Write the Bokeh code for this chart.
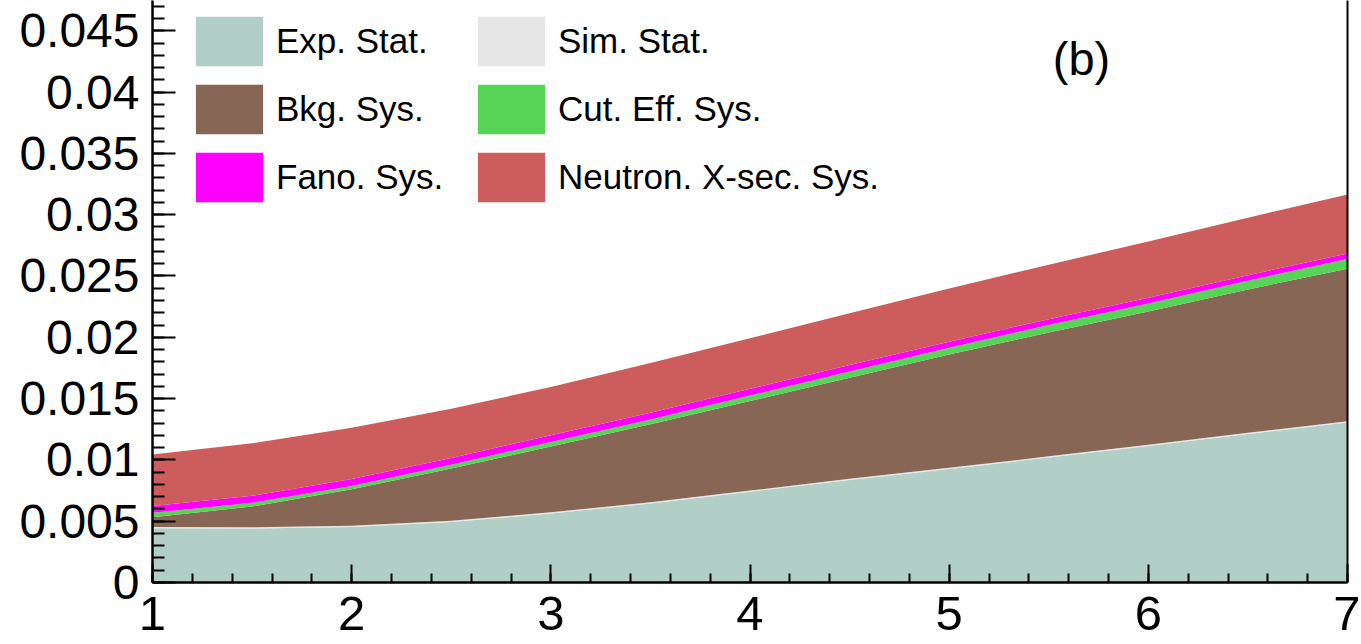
import numpy as np
from bokeh.plotting import figure
from bokeh.models import Range1d, FixedTicker, LinearAxis, Legend, LegendItem, Label
from bokeh.embed import file_html
from bokeh.resources import INLINE

# ---------------- data ----------------
x = [1.0, 1.5, 2.0, 2.5, 3.0, 3.5, 4.0, 4.5, 5.0, 5.5, 6.0, 6.5, 7.0]
exp_stat = [0.00442, 0.00440, 0.00452, 0.00493, 0.00562, 0.00645, 0.00740,
            0.00836, 0.00925, 0.01019, 0.01113, 0.01211, 0.01306]
sim_stat = [0.00010, 0.00010, 0.00010, 0.00010, 0.00010, 0.00010, 0.00010,
            0.00010, 0.00010, 0.00010, 0.00010, 0.00010, 0.00010]
bkg_sys = [0.00081, 0.00170, 0.00298, 0.00427, 0.00538, 0.00635, 0.00730,
           0.00824, 0.00925, 0.01011, 0.01087, 0.01169, 0.01244]
cut_eff_sys = [0.00035, 0.00030, 0.00028, 0.00030, 0.00036, 0.00040, 0.00045,
               0.00050, 0.00054, 0.00060, 0.00066, 0.00072, 0.00078]
fano_sys = [0.00055, 0.00057, 0.00056, 0.00055, 0.00055, 0.00055, 0.00055,
            0.00053, 0.00050, 0.00048, 0.00046, 0.00045, 0.00045]
neutron_sys = [0.00421, 0.00428, 0.00418, 0.00402, 0.00394, 0.00405, 0.00413,
               0.00424, 0.00434, 0.00444, 0.00460, 0.00468, 0.00482]

series_names = ["Exp. Stat.", "Sim. Stat.", "Bkg. Sys.", "Cut. Eff. Sys.",
                "Fano. Sys.", "Neutron. X-sec. Sys."]
series_colors = ["#b2cfc7", "#e6e6e6", "#876656", "#57d355", "#ff00ff", "#cd5c5c"]

x_ticks = [1, 2, 3, 4, 5, 6, 7]
x_tick_labels = ["1", "2", "3", "4", "5", "6", "7"]
y_ticks = [0.0, 0.005, 0.01, 0.015, 0.02, 0.025, 0.03, 0.035, 0.04, 0.045]
y_tick_labels = ["0", "0.005", "0.01", "0.015", "0.02", "0.025", "0.03",
                 "0.035", "0.04", "0.045"]
panel_tag = "(b)"

FONT = "Liberation Sans"

p = figure(width=1360, height=644, output_backend="svg", toolbar_location=None,
           x_range=Range1d(1, 7), y_range=Range1d(0, 0.04747),
           min_border_left=152, min_border_right=13, min_border_top=0,
           min_border_bottom=62, x_axis_type=None, y_axis_type=None)
p.outline_line_color = None
p.xgrid.visible = False
p.ygrid.visible = False
p.background_fill_color = "white"
p.border_fill_color = "white"

# stacked areas
layers = [exp_stat, sim_stat, bkg_sys, cut_eff_sys, fano_sys, neutron_sys]
lower = np.zeros(len(x))
renderers = []
for vals, col in zip(layers, series_colors):
    upper = lower + np.array(vals)
    r = p.varea(x=x, y1=lower.copy(), y2=upper.copy(), fill_color=col)
    renderers.append(r)
    lower = upper

# axes
xaxis = LinearAxis(ticker=FixedTicker(ticks=x_ticks,
                                      minor_ticks=list(np.arange(1, 7.0001, 0.2))))
xaxis.major_label_overrides = {t: l for t, l in zip(x_ticks, x_tick_labels)}
xaxis.major_label_text_font = FONT
xaxis.major_label_text_font_size = "49px"
xaxis.major_label_text_color = "black"
xaxis.major_label_standoff = 14
xaxis.axis_line_width = 2.5
xaxis.major_tick_line_width = 2
xaxis.minor_tick_line_width = 2
xaxis.major_tick_in = 18
xaxis.major_tick_out = 0
xaxis.minor_tick_in = 9
xaxis.minor_tick_out = 0
p.add_layout(xaxis, "below")

yaxis = LinearAxis(ticker=FixedTicker(ticks=y_ticks,
                                      minor_ticks=list(np.arange(0, 0.0475, 0.001))))
yaxis.major_label_overrides = {t: l for t, l in zip(y_ticks, y_tick_labels)}
yaxis.major_label_text_font = FONT
yaxis.major_label_text_font_size = "48px"
yaxis.major_label_text_color = "black"
yaxis.major_label_standoff = 13
yaxis.axis_line_width = 2.5
yaxis.major_tick_line_width = 2
yaxis.minor_tick_line_width = 2
yaxis.major_tick_in = 23
yaxis.major_tick_out = 0
yaxis.minor_tick_in = 12
yaxis.minor_tick_out = 0
p.add_layout(yaxis, "left")

raxis = LinearAxis(ticker=FixedTicker(ticks=[]))
raxis.axis_line_width = 2
raxis.major_tick_in = 0
raxis.major_tick_out = 0
raxis.minor_tick_in = 0
raxis.minor_tick_out = 0
raxis.major_label_standoff = 0
p.add_layout(raxis, "right")

# legends (two columns)
def make_legend(idx, loc):
    items = [LegendItem(label=series_names[i], renderers=[renderers[i]]) for i in idx]
    lg = Legend(items=items, location=loc, orientation="vertical")
    lg.glyph_width = 84
    lg.glyph_height = 62
    lg.label_height = 62
    lg.label_standoff = 5
    lg.spacing = 6
    lg.padding = 0
    lg.margin = 0
    lg.border_line_color = None
    lg.background_fill_alpha = 0
    lg.label_text_font = FONT
    lg.label_text_font_size = "35px"
    lg.label_text_color = "black"
    return lg

p.add_layout(make_legend([0, 2, 4], (35, 374)), "center")
p.add_layout(make_legend([1, 3, 5], (317, 374)), "center")

p.add_layout(Label(x=5.52, y=0.04272, text=panel_tag, text_font=FONT,
                   text_font_size="47px", text_baseline="alphabetic",
                   text_color="black"))

open("out.html", "w").write(file_html(p, INLINE))
